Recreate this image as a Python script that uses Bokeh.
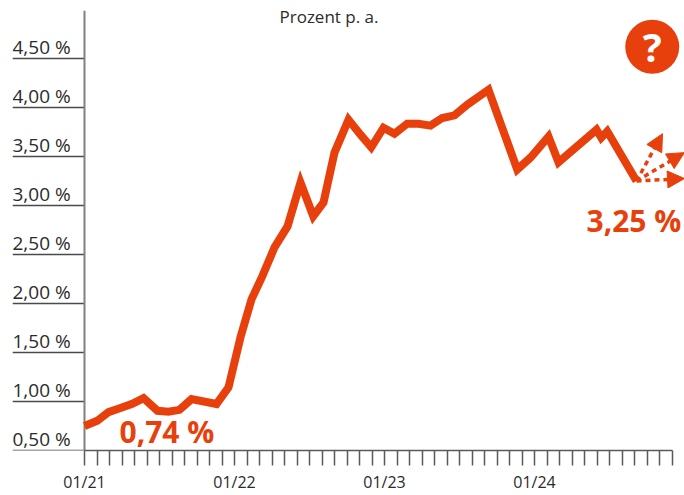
from bokeh.plotting import figure
from bokeh.models import Range1d, FixedTicker, Label, Arrow, NormalHead
from bokeh.core.properties import value
from bokeh.embed import file_html
from bokeh.resources import INLINE

months = [0, 1.02, 1.92, 2.88, 3.82, 4.72, 5.84, 6.72, 7.6, 8.56, 10.56, 11.52, 12.48, 13.36,
          14.22, 15.2, 16.24, 17.28, 18.3, 19.12, 20, 21.12, 22.08, 22.94, 23.92, 24.8, 25.82,
          26.72, 27.68, 28.62, 29.6, 30.62, 32.32, 34.62, 35.68, 37.12, 37.92, 40.96, 41.34,
          41.82, 44.16]
rates = [0.75, 0.803, 0.892, 0.933, 0.977, 1.035, 0.905, 0.895, 0.915, 1.024, 0.974, 1.144,
         1.656, 2.043, 2.277, 2.572, 2.786, 3.234, 2.891, 3.031, 3.54, 3.876, 3.723, 3.594,
         3.794, 3.733, 3.835, 3.835, 3.815, 3.893, 3.92, 4.028, 4.181, 3.367, 3.489, 3.703,
         3.441, 3.774, 3.692, 3.757, 3.25]
y_ticks = [0.5, 1.0, 1.5, 2.0, 2.5, 3.0, 3.5, 4.0, 4.5]
y_labels = ["0,50 %", "1,00 %", "1,50 %", "2,00 %", "2,50 %", "3,00 %", "3,50 %", "4,00 %", "4,50 %"]
x_ticks = list(range(48))
x_label_pos = [0, 12, 24, 36]
x_labels = ["01/21", "01/22", "01/23", "01/24"]
arrow_months = [46.24, 48.0, 48.0]
arrow_rates = [3.733, 3.54, 3.275]

ORANGE = "#E8400C"
DARK = "#2b2b2b"
FONT = "Open Sans"
X_START = -5.76
Y_TOP = 4.99

p = figure(width=684, height=495, output_backend="svg", toolbar_location=None,
           x_range=Range1d(X_START, 48), y_range=Range1d(0.5, Y_TOP),
           min_border_left=12, min_border_right=0, min_border_top=10, min_border_bottom=43,
           outline_line_color=None, background_fill_color="white", border_fill_color="white")
p.grid.visible = False
p.yaxis.visible = False

xa = p.xaxis[0]
xa.ticker = FixedTicker(ticks=x_ticks)
xa.bounds = (0, 47)
xa.major_label_overrides = {t: "" for t in x_ticks}
xa.major_label_overrides.update(dict(zip(x_label_pos, x_labels)))
xa.major_label_text_font = FONT
xa.major_label_text_font_size = "16px"
xa.major_label_text_color = DARK
xa.major_label_standoff = 5
xa.major_tick_out = 15
xa.major_tick_in = 0
xa.major_tick_line_color = "#5a5a5a"
xa.major_tick_line_width = 1.5
xa.minor_tick_line_color = None
xa.axis_line_color = "#5a5a5a"
xa.axis_line_width = 1.5

p.segment(x0=[X_START] * len(y_ticks), y0=y_ticks, x1=[0] * len(y_ticks), y1=y_ticks,
          line_color="#4a4a4a", line_width=1.5)
p.segment(x0=[0], y0=[0.5], x1=[0], y1=[Y_TOP], line_color="#808080", line_width=2)
p.text(x=[X_START] * len(y_ticks), y=y_ticks, text=y_labels, y_offset=-12,
       text_font=value(FONT), text_font_size="19px", text_color=DARK,
       text_align="left", text_baseline="alphabetic")

p.add_layout(Label(x=15.6, y=Y_TOP, y_offset=6, text="Prozent p. a.", text_font=FONT,
                   text_font_size="17px", text_color=DARK, text_align="left", text_baseline="top"))

p.line(months, rates, line_color=ORANGE, line_width=8, line_join="miter", line_cap="butt")

p.add_layout(Label(x=months[0], y=rates[0], x_offset=35, y_offset=-5, text="0,74 %", text_font=FONT,
                   text_font_size="30px", text_font_style="bold", text_color=ORANGE,
                   text_align="left", text_baseline="alphabetic"))
p.add_layout(Label(x=months[-1], y=rates[-1], x_offset=-50, y_offset=-39, text="3,25 %", text_font=FONT,
                   text_font_size="30px", text_font_style="bold", text_color=ORANGE,
                   text_align="left", text_baseline="alphabetic"))

for m, r in zip(arrow_months, arrow_rates):
    p.add_layout(Arrow(x_start=months[-1], y_start=rates[-1], x_end=m, y_end=r,
                       line_color=ORANGE, line_width=3.5, line_dash="5 4",
                       end=NormalHead(size=17, fill_color=ORANGE, line_color=ORANGE, line_width=1)))

p.scatter([45.42], [4.62], size=54, fill_color=ORANGE, line_color=None)
p.text([45.42], [4.62], text=["?"], text_font=value(FONT), text_font_size="40px",
       text_font_style="bold", text_color="white", text_align="center", text_baseline="middle")

open("out.html", "w").write(file_html(p, INLINE))
